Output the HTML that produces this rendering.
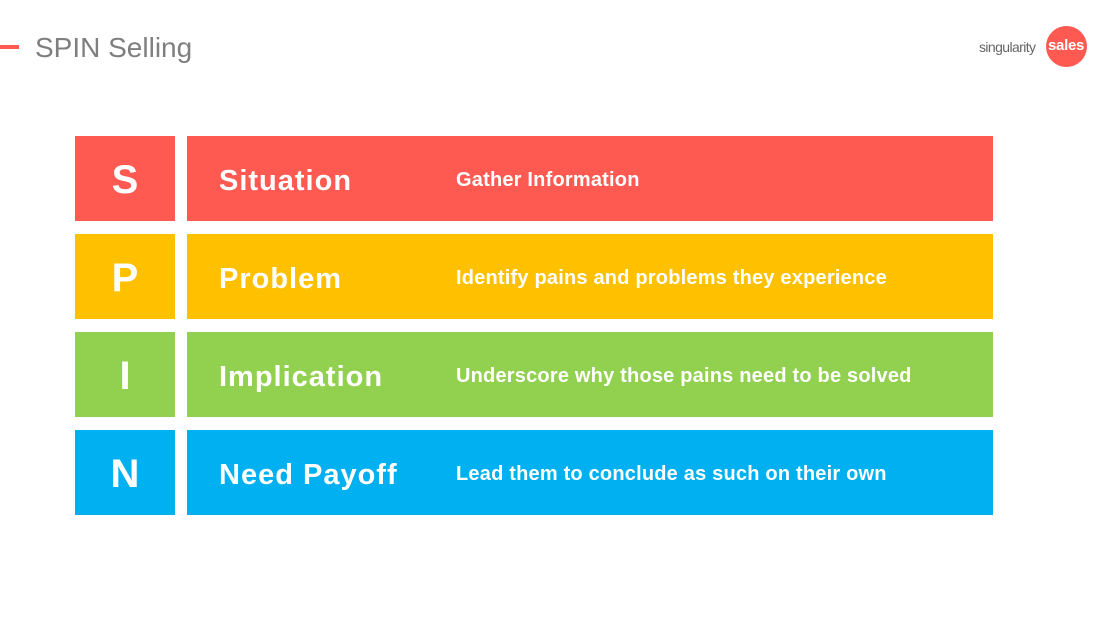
<!DOCTYPE html>
<html><head><style>
body{margin:0;width:1112px;height:620px;background:#fff;position:relative;overflow:hidden;font-family:"Liberation Sans",sans-serif}
.a{position:absolute}
.l{position:absolute;left:75px;width:100px;height:85px;color:#fff;font-weight:bold;font-size:40px;text-align:center;line-height:89px}
.r{position:absolute;left:187px;width:806px;height:85px;color:#fff;font-weight:bold}
.n{position:absolute;left:32px;top:28px;font-size:29px;line-height:34px;letter-spacing:1px}
.d{position:absolute;left:269px;top:33px;font-size:20px;line-height:22px;letter-spacing:0.2px}
</style></head><body>
<div class="a" style="left:0;top:45px;width:19px;height:4px;background:#FF5A52"></div>
<div class="a" style="left:35px;top:30px;font-size:28px;color:#7f7f7f;line-height:36px">SPIN Selling</div>
<div class="a" style="left:1046px;top:26px;width:41px;height:41px;border-radius:50%;background:#FF5A52"></div>
<div class="a" style="left:979px;top:38px;font-size:14px;color:#666;line-height:18px;letter-spacing:-0.6px">singularity</div>
<div class="a" style="left:1048px;top:37px;font-size:15px;color:#fff;font-weight:bold;line-height:18px;letter-spacing:-0.3px">sales</div>

<div class="l" style="top:136px;background:#FF5A52">S</div>
<div class="r" style="top:136px;background:#FF5A52"><div class="n">Situation</div><div class="d">Gather Information</div></div>
<div class="l" style="top:234px;background:#FFC000">P</div>
<div class="r" style="top:234px;background:#FFC000"><div class="n">Problem</div><div class="d">Identify pains and problems they experience</div></div>
<div class="l" style="top:332px;background:#92D050">I</div>
<div class="r" style="top:332px;background:#92D050"><div class="n">Implication</div><div class="d">Underscore why those pains need to be solved</div></div>
<div class="l" style="top:430px;background:#00B0F0">N</div>
<div class="r" style="top:430px;background:#00B0F0"><div class="n">Need Payoff</div><div class="d">Lead them to conclude as such on their own</div></div>
</body></html>
